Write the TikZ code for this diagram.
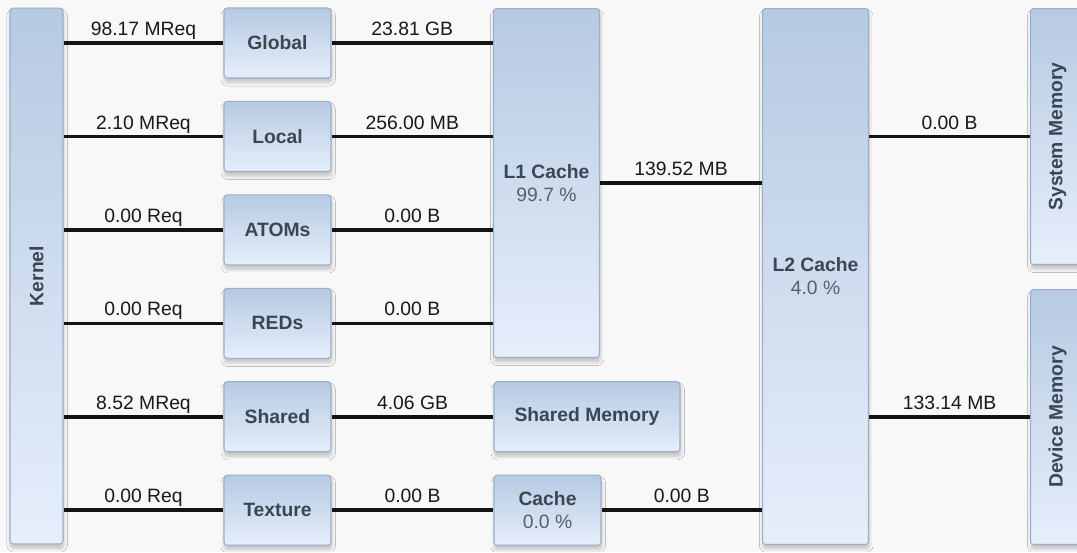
\documentclass[tikz,border=0pt]{standalone}
\usepackage{fontspec}
\setmainfont{Liberation Sans}
\usepackage{graphicx}
\usetikzlibrary{positioning, shadows.blur}
\definecolor{boxtop}{HTML}{B6CAE2}
\definecolor{boxbot}{HTML}{E6EEFB}
\definecolor{boxline}{HTML}{9CAECB}
\definecolor{boxtext}{HTML}{3B4652}
\definecolor{pcttext}{HTML}{56616C}
\definecolor{canvas}{HTML}{F8F8F8}

\begin{document}
\begin{tikzpicture}[
  x=0.02cm, y=-0.02cm,
  node distance=0.448cm and 3.24cm,
  unit/.style={rectangle, draw=boxline, line width=0.6pt,
    rounded corners=0.06cm, top color=boxtop, bottom color=boxbot,
    minimum width=2.14cm, minimum height=1.4cm, align=center,
    text=boxtext, font=\bfseries\fontsize{11}{13}\selectfont,
    blur shadow={shadow xshift=0.4pt, shadow yshift=-2.5pt,
      shadow blur steps=6, shadow opacity=22}},
  link/.style={line width=2pt, black!92},
  amount/.style={above, inner sep=1.5pt, text depth=1.7pt,
    font=\fontsize{11}{13}\selectfont, text=black!90}
]
  \useasboundingbox[fill=canvas] (0,0) rectangle (1077,552);

  % kernel and request units
  \node[unit, minimum width=1.06cm, minimum height=10.72cm] (kernel)
    at (36.5,276) {\rotatebox{90}{Kernel}};
  \node[unit] (global) at (277.5,43) {Global};
  \node[unit, below=of global] (local) {Local};
  \node[unit, below=of local] (atoms) {ATOMs};
  \node[unit, below=of atoms] (reds) {REDs};
  \node[unit, below=of reds] (shared) {Shared};
  \node[unit, below=of shared] (texture) {Texture};

  % caches and memories
  \node[unit, minimum width=2.12cm, minimum height=6.98cm, anchor=north west]
    (l1) at (493,8) {L1 Cache\\{\mdseries\color{pcttext}99.7 \%}};
  \node[unit, right=of shared, minimum width=3.72cm] (shmem) {Shared Memory};
  \node[unit, right=of texture] (cache)
    {Cache\\{\mdseries\color{pcttext}0.0 \%}};
  \node[unit, minimum width=2.12cm, minimum height=10.72cm, anchor=north west]
    (l2) at (762,8) {L2 Cache\\{\mdseries\color{pcttext}4.0 \%}};
  \node[unit, minimum width=1.08cm, minimum height=5.12cm, anchor=north west]
    (sysmem) at (1030,8) {\rotatebox{90}{System Memory}};
  \node[unit, minimum width=1.08cm, minimum height=5.1cm, anchor=north west]
    (devmem) at (1030,289) {\rotatebox{90}{Device Memory}};

  % traffic
  \draw[link] (kernel.east |- global) -- node[amount] {98.17 MReq} (global);
  \draw[link] (kernel.east |- local) -- node[amount] {2.10 MReq} (local);
  \draw[link] (kernel.east |- atoms) -- node[amount] {0.00 Req} (atoms);
  \draw[link] (kernel.east |- reds) -- node[amount] {0.00 Req} (reds);
  \draw[link] (kernel.east |- shared) -- node[amount] {8.52 MReq} (shared);
  \draw[link] (kernel.east |- texture) -- node[amount] {0.00 Req} (texture);

  \draw[link] (global) -- node[amount] {23.81 GB} (global -| l1.west);
  \draw[link] (local) -- node[amount] {256.00 MB} (local -| l1.west);
  \draw[link] (atoms) -- node[amount] {0.00 B} (atoms -| l1.west);
  \draw[link] (reds) -- node[amount] {0.00 B} (reds -| l1.west);
  \draw[link] (shared) -- node[amount] {4.06 GB} (shmem);
  \draw[link] (texture) -- node[amount] {0.00 B} (cache);

  \draw[link] (l1) -- node[amount] {139.52 MB} (l1 -| l2.west);
  \draw[link] (cache) -- node[amount] {0.00 B} (cache -| l2.west);
  \draw[link] (l2.east |- sysmem) -- node[amount] {0.00 B} (sysmem);
  \draw[link] (l2.east |- devmem) -- node[amount] {133.14 MB} (devmem);
\end{tikzpicture}
\end{document}
